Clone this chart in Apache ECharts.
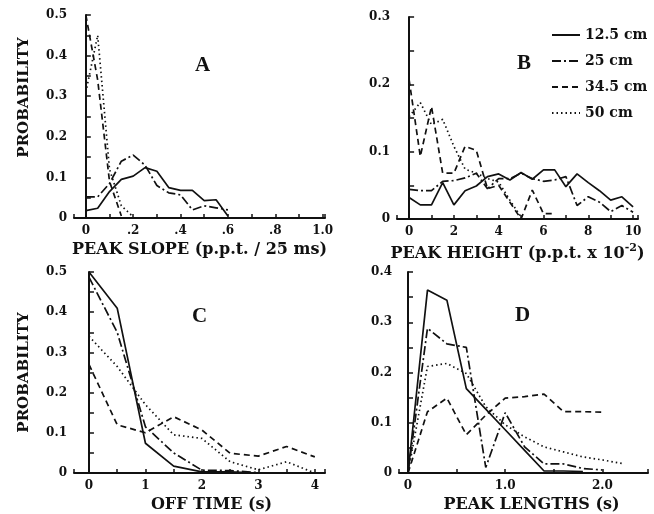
<!DOCTYPE html>
<html>
<head>
<meta charset="utf-8">
<script src="https://cdn.jsdelivr.net/npm/echarts@6/dist/echarts.min.js"></script>
<style>
html, body { margin: 0; padding: 0; background: #fff; }
#chart { width: 654px; height: 514px; }
</style>
</head>
<body>
<div id="chart"></div>
<script>
var names = ['12.5 cm', '25 cm', '34.5 cm', '50 cm'];

// A: peak slope
var slopeX = [0, 0.05, 0.1, 0.15, 0.2, 0.25, 0.3, 0.35, 0.4, 0.45, 0.5, 0.55, 0.6];
var slope125 = [0.018, 0.024, 0.065, 0.095, 0.103, 0.124, 0.115, 0.075, 0.068, 0.068, 0.043, 0.045, 0.005];
var slope25 = [0.052, 0.052, 0.085, 0.14, 0.155, 0.13, 0.08, 0.062, 0.057, 0.02, 0.03, 0.025, 0.02];
var slope345 = [0.5, 0.34, 0.09, 0.005];
var slope50 = [0.31, 0.45, 0.12, 0.03, 0.003];

// B: peak height
var heightX = [0, 0.5, 1, 1.5, 2, 2.5, 3, 3.5, 4, 4.5, 5, 5.5, 6, 6.5, 7, 7.5, 8, 8.5, 9, 9.5, 10];
var height125 = [0.032, 0.021, 0.021, 0.054, 0.021, 0.042, 0.049, 0.063, 0.067, 0.058, 0.069, 0.059, 0.073, 0.073, 0.048, 0.067, 0.054, 0.042, 0.028, 0.033, 0.018];
var height25 = [0.044, 0.042, 0.042, 0.056, 0.057, 0.061, 0.068, 0.045, 0.06, 0.06, 0.068, 0.06, 0.056, 0.058, 0.063, 0.02, 0.033, 0.025, 0.011, 0.02, 0.01];
var height345 = [0.207, 0.093, 0.167, 0.068, 0.068, 0.108, 0.102, 0.045, 0.05, 0.025, 0.0, 0.043, 0.008, 0.008];
var height50 = [0.152, 0.173, 0.14, 0.148, 0.108, 0.074, 0.068, 0.06, 0.055, 0.028, 0.003];

// C: off time
var offX = [0, 0.5, 1, 1.5, 2, 2.5, 3, 3.5, 4];
var off125 = [0.5, 0.41, 0.074, 0.017, 0.003, 0.003, 0];
var off25 = [0.487, 0.35, 0.115, 0.05, 0.007, 0.006, 0.001];
var off345 = [0.27, 0.12, 0.1, 0.14, 0.107, 0.049, 0.042, 0.066, 0.04];
var off50 = [0.34, 0.265, 0.17, 0.095, 0.086, 0.028, 0.008, 0.028, 0.0];

// D: peak lengths
var lenX = [0, 0.2, 0.4, 0.6, 0.8, 1.0, 1.2, 1.4, 1.6, 1.8, 2.0, 2.2];
var len125 = [0, 0.364, 0.344, 0.168, 0.127, 0.086, 0.045, 0.004, 0.004, 0.003];
var len25 = [0, 0.288, 0.257, 0.25, 0.011, 0.12, 0.052, 0.018, 0.018, 0.009, 0.006];
var len345 = [0, 0.122, 0.149, 0.076, 0.115, 0.149, 0.152, 0.157, 0.122, 0.122, 0.121];
var len50 = [0, 0.212, 0.218, 0.198, 0.132, 0.096, 0.072, 0.052, 0.042, 0.032, 0.026, 0.019];

var dashes = ['solid', [9, 3, 2, 3], [6, 4], [1.5, 3]];
var font = 'DejaVu Serif';

function pairs(xs, ys) {
    return ys.map(function (y, i) { return [xs[i], y]; });
}

function isMult(v, step) {
    var r = v / step;
    return Math.abs(r - Math.round(r)) < 1e-6;
}

function xAx(idx, min, max, split, fmt, name, padLeft) {
    return {
        type: 'value', gridIndex: idx, min: min, max: max, splitNumber: split,
        name: name, nameLocation: 'middle', nameGap: 24,
        nameTextStyle: {
            color: '#111', fontFamily: font, fontWeight: 'bold', fontSize: 16,
            padding: [0, 0, 0, padLeft || 0],
            rich: { sup: { fontFamily: font, fontWeight: 'bold', fontSize: 11, color: '#111', verticalAlign: 'top', padding: [0, 0, 10, 0] } }
        },
        axisLine: { show: true, lineStyle: { color: '#111', width: 2 } },
        axisTick: { show: true, inside: true, interval: 0, length: 4, lineStyle: { color: '#111', width: 1.5 } },
        axisLabel: { interval: 0, color: '#111', fontFamily: font, fontWeight: 'bold', fontSize: 12, margin: 7, formatter: fmt },
        splitLine: { show: false }
    };
}

function yAx(idx, max, name, padLeft) {
    return {
        type: 'value', gridIndex: idx, min: 0, max: max, interval: 0.05,
        name: name, nameLocation: 'middle', nameGap: 42,
        nameTextStyle: { color: '#111', fontFamily: font, fontWeight: 'bold', fontSize: 15, padding: [0, 0, 0, padLeft || 0] },
        axisLine: { show: true, lineStyle: { color: '#111', width: 2 } },
        axisTick: { show: true, inside: true, interval: 0, length: 5, lineStyle: { color: '#111', width: 1.5 } },
        axisLabel: {
            interval: 0, color: '#111', fontFamily: font, fontWeight: 'bold', fontSize: 12, margin: 7,
            formatter: function (v) { return isMult(v, 0.1) ? (v === 0 ? '0' : v.toFixed(1)) : ''; }
        },
        splitLine: { show: false }
    };
}

var fmtA = function (v) {
    if (!isMult(v, 0.2) || v < -1e-9) return '';
    if (Math.abs(v) < 1e-9) return '0';
    if (v > 0.99) return '1.0';
    return '.' + Math.round(v * 10);
};
var fmtB = function (v) { return (isMult(v, 2) && v > -1e-9) ? String(Math.round(v)) : ''; };
var fmtC = function (v) { return (isMult(v, 1) && v > -1e-9) ? String(Math.round(v)) : ''; };
var fmtD = function (v) {
    if (!isMult(v, 1) || v < -1e-9) return '';
    return Math.abs(v) < 1e-9 ? '0' : v.toFixed(1);
};

var panels = [
    { x: slopeX, ys: [slope125, slope25, slope345, slope50] },
    { x: heightX, ys: [height125, height25, height345, height50] },
    { x: offX, ys: [off125, off25, off345, off50] },
    { x: lenX, ys: [len125, len25, len345, len50] }
];

var series = [];
panels.forEach(function (p, gi) {
    p.ys.forEach(function (ys, si) {
        series.push({
            name: names[si], type: 'line', xAxisIndex: gi, yAxisIndex: gi,
            symbol: 'none', silent: true,
            lineStyle: { color: '#111', width: 1.7, type: dashes[si] },
            itemStyle: { color: '#111' },
            data: pairs(p.x, ys)
        });
    });
});

var letterStyle = { color: '#111', fontFamily: 'Liberation Serif', fontWeight: 'bold', fontSize: 21 };

var option = {
    backgroundColor: '#fff',
    animation: false,
    title: [
        { text: 'A', left: 190, top: 50, textStyle: letterStyle },
        { text: 'B', left: 512, top: 48, textStyle: letterStyle },
        { text: 'C', left: 187, top: 301, textStyle: letterStyle },
        { text: 'D', left: 510, top: 300, textStyle: letterStyle }
    ],
    legend: {
        data: names, orient: 'vertical', left: 546, top: 23,
        itemWidth: 28, itemHeight: 14, itemGap: 12,
        itemStyle: { color: 'transparent', borderWidth: 0, opacity: 0 },
        textStyle: { color: '#111', fontFamily: font, fontWeight: 'bold', fontSize: 14 }
    },
    grid: [
        { left: 74, top: 15, width: 251, height: 203 },
        { left: 397, top: 17, width: 241, height: 202 },
        { left: 74, top: 272, width: 251, height: 201 },
        { left: 399, top: 272, width: 249, height: 201 }
    ],
    xAxis: [
        xAx(0, -0.05, 1.01, 10, fmtA, 'PEAK SLOPE (p.p.t. / 25 ms)'),
        xAx(1, -0.54, 10.22, 10, fmtB, 'PEAK HEIGHT (p.p.t. x 10{sup|-2})'),
        xAx(2, -0.265, 4.18, 9, fmtC, 'OFF TIME (s)', 24),
        xAx(3, -0.093, 2.47, 5, fmtD, 'PEAK LENGTHS (s)', 16)
    ],
    yAxis: [
        yAx(0, 0.5, 'PROBABILITY', 38),
        yAx(1, 0.3, ''),
        yAx(2, 0.5, 'PROBABILITY'),
        yAx(3, 0.4, '')
    ],
    series: series
};

var chart = echarts.init(document.getElementById('chart'), null, { renderer: 'canvas' });
chart.setOption(option);
</script>
</body>
</html>
